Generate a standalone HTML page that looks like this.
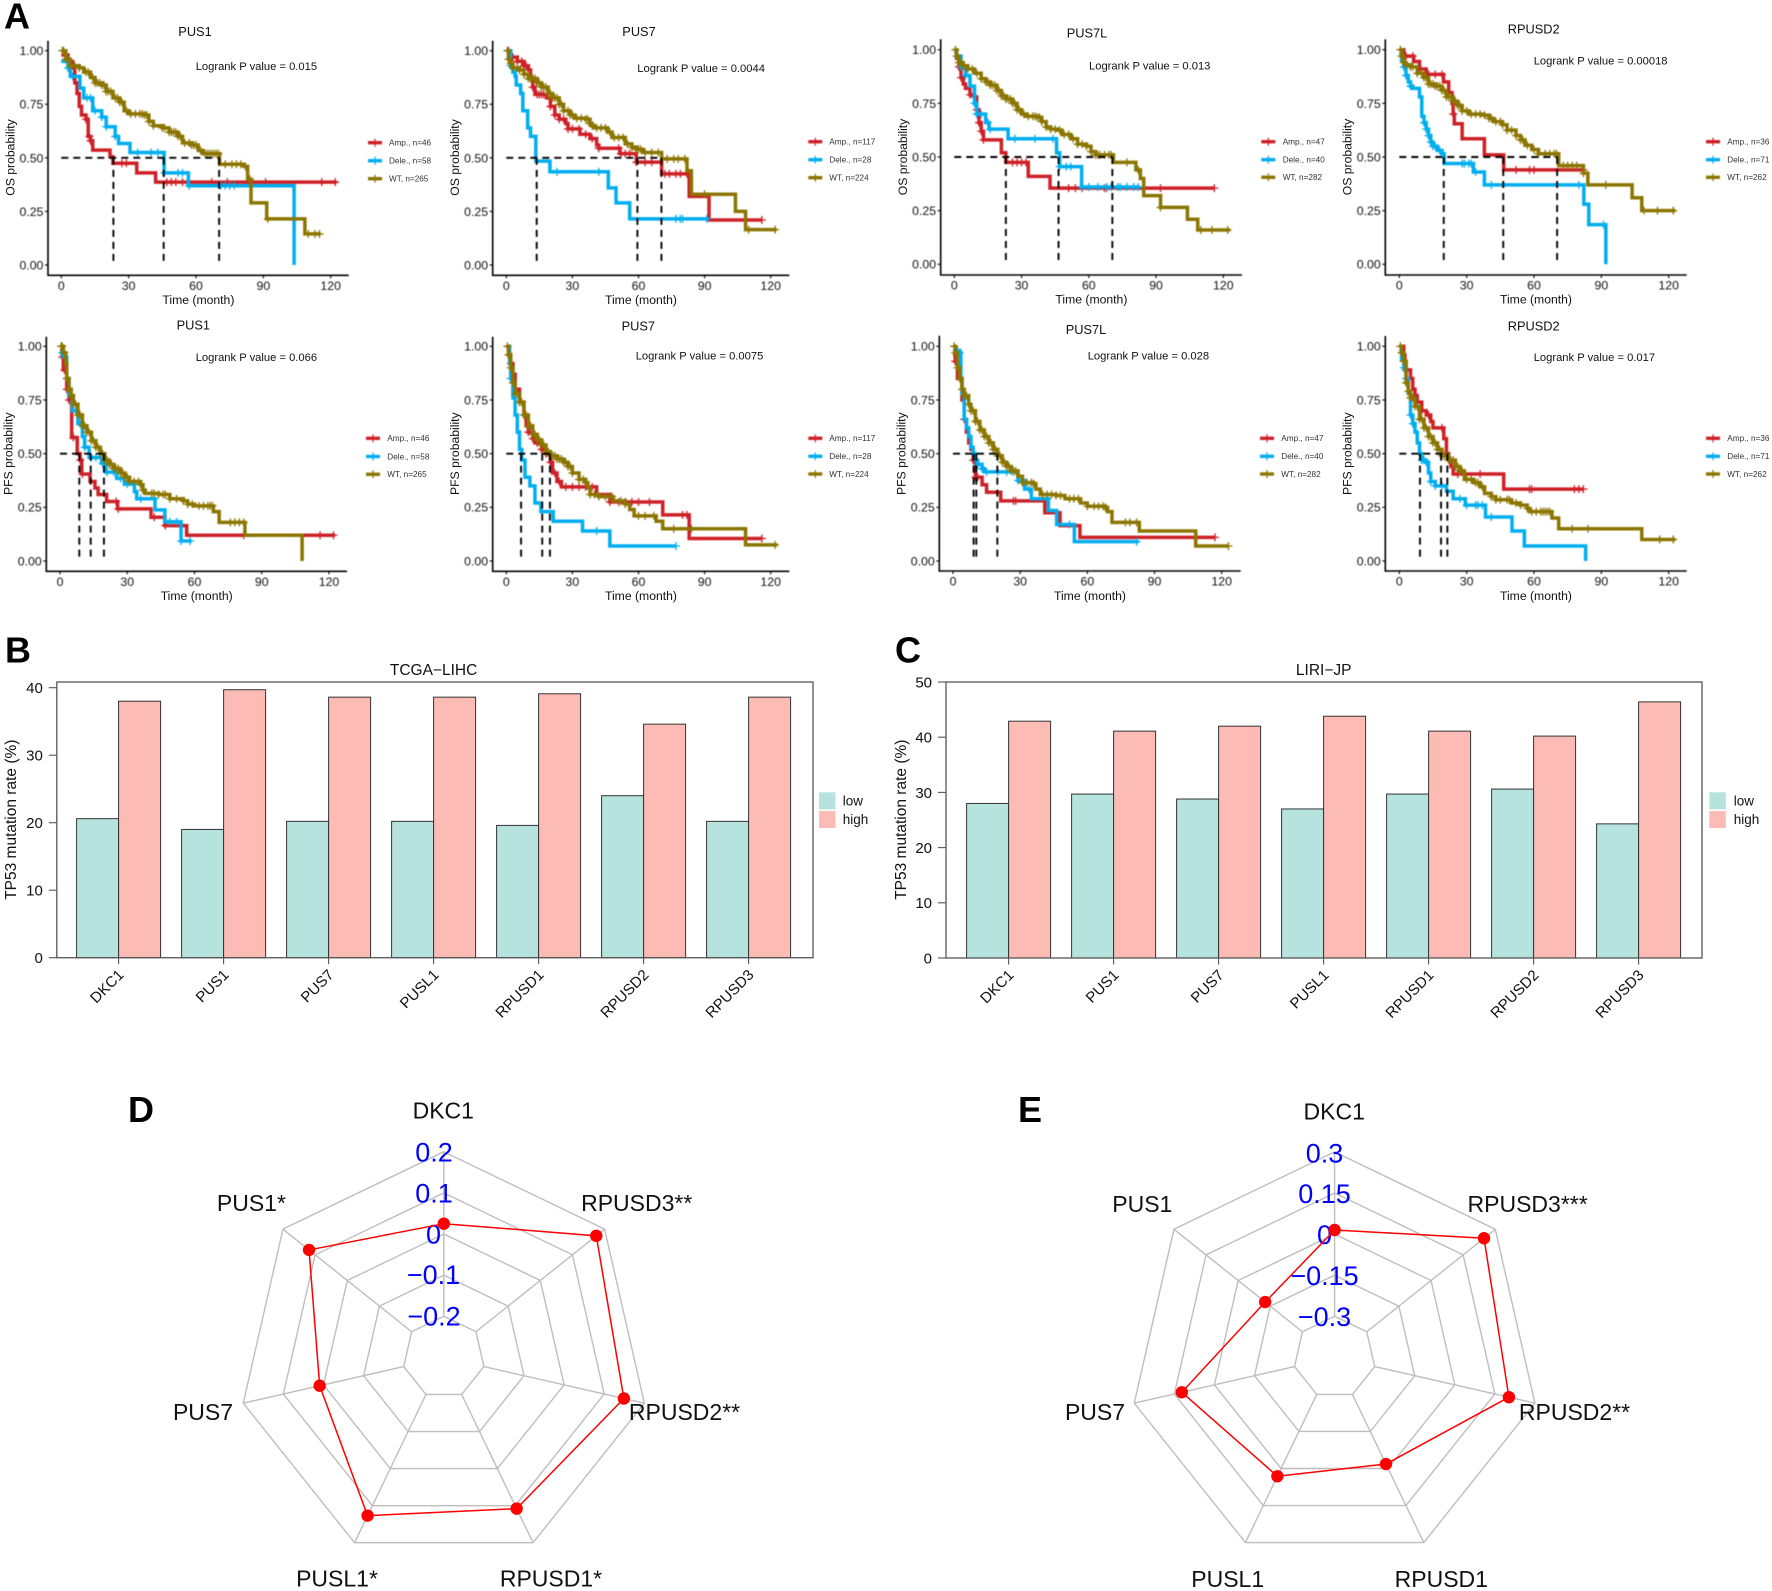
<!DOCTYPE html>
<html lang="en">
<head>
<meta charset="utf-8">
<title>PUS family survival, TP53 mutation and correlation panels</title>
<style>
html,body{margin:0;padding:0;background:#fff;width:1772px;height:1591px;overflow:hidden}
svg{display:block}
text{font-family:"Liberation Sans",Arial,sans-serif;fill:#000}
.letter{font-size:36px;font-weight:bold}
.km-title{font-size:12.8px;text-anchor:middle;fill:#111}
.km-p{font-size:11.2px;fill:#111}
.km-axis{font-size:12.2px;text-anchor:middle;fill:#111}
.km-leg{font-size:8.2px;fill:#333}
.km-tick{font-size:12.3px;fill:#111}
.bar-title{font-size:15.5px;text-anchor:middle;fill:#111}
.bar-axis{font-size:15.5px;text-anchor:middle;fill:#111}
.bar-tick{font-size:15px;fill:#111}
.bar-leg{font-size:13.5px;fill:#111}
.rad-lab{font-size:23px;text-anchor:middle;fill:#111}
.rad-val{font-size:27px;text-anchor:middle;fill:#0000ff}
</style>
</head>
<body>
<svg id="figure" xmlns="http://www.w3.org/2000/svg" width="1772" height="1591" viewBox="0 0 1772 1591">
<rect width="1772" height="1591" fill="#fff"/>

<text class="letter" x="4" y="28.5">A</text>
<text class="letter" x="5" y="662.5">B</text>
<text class="letter" x="895" y="662.5">C</text>
<text class="letter" x="128" y="1122">D</text>
<text class="letter" x="1018" y="1122">E</text>

<g id="km-layer" style="filter:blur(.4px)"></g>
<g>
<text class="km-title" x="195" y="36">PUS1</text>
<text class="km-p" x="195.7" y="70">Logrank P value = 0.015</text>
<text class="km-axis" transform="translate(14.5 157.5) rotate(-90)">OS probability</text>
<text class="km-axis" x="198.4" y="304">Time (month)</text>
<text class="km-leg" x="389" y="145.6">Amp., n=46</text>
<text class="km-leg" x="389" y="163.6">Dele., n=58</text>
<text class="km-leg" x="389" y="181.6">WT, n=265</text>

<text class="km-title" x="193.3" y="329.3">PUS1</text>
<text class="km-p" x="195.7" y="361">Logrank P value = 0.066</text>
<text class="km-axis" transform="translate(12.5 453.7) rotate(-90)">PFS probability</text>
<text class="km-axis" x="196.7" y="600">Time (month)</text>
<text class="km-leg" x="387.3" y="441.2">Amp., n=46</text>
<text class="km-leg" x="387.3" y="459.4">Dele., n=58</text>
<text class="km-leg" x="387.3" y="477.2">WT, n=265</text>

<text class="km-title" x="639" y="36">PUS7</text>
<text class="km-p" x="637.3" y="72">Logrank P value = 0.0044</text>
<text class="km-axis" transform="translate(458.8 157.5) rotate(-90)">OS probability</text>
<text class="km-axis" x="641" y="304">Time (month)</text>
<text class="km-leg" x="829.3" y="144.6">Amp., n=117</text>
<text class="km-leg" x="829.3" y="162.6">Dele., n=28</text>
<text class="km-leg" x="829.3" y="180.6">WT, n=224</text>

<text class="km-title" x="638.3" y="330.3">PUS7</text>
<text class="km-p" x="635.7" y="359.7">Logrank P value = 0.0075</text>
<text class="km-axis" transform="translate(458.8 453.7) rotate(-90)">PFS probability</text>
<text class="km-axis" x="641" y="600">Time (month)</text>
<text class="km-leg" x="829.3" y="441.2">Amp., n=117</text>
<text class="km-leg" x="829.3" y="459.2">Dele., n=28</text>
<text class="km-leg" x="829.3" y="476.9">WT, n=224</text>

<text class="km-title" x="1087" y="37.3">PUS7L</text>
<text class="km-p" x="1089" y="69.3">Logrank P value = 0.013</text>
<text class="km-axis" transform="translate(906.8 157) rotate(-90)">OS probability</text>
<text class="km-axis" x="1091.4" y="303.6">Time (month)</text>
<text class="km-leg" x="1282.7" y="144.6">Amp., n=47</text>
<text class="km-leg" x="1282.7" y="162.6">Dele., n=40</text>
<text class="km-leg" x="1282.7" y="180.2">WT, n=282</text>

<text class="km-title" x="1086" y="334">PUS7L</text>
<text class="km-p" x="1087.7" y="359.7">Logrank P value = 0.028</text>
<text class="km-axis" transform="translate(905.5 453.7) rotate(-90)">PFS probability</text>
<text class="km-axis" x="1090" y="600">Time (month)</text>
<text class="km-leg" x="1281.3" y="441.2">Amp., n=47</text>
<text class="km-leg" x="1281.3" y="459.2">Dele., n=40</text>
<text class="km-leg" x="1281.3" y="476.9">WT, n=282</text>

<text class="km-title" x="1533.7" y="33.7">RPUSD2</text>
<text class="km-p" x="1533.7" y="64.3">Logrank P value = 0.00018</text>
<text class="km-axis" transform="translate(1351.5 157) rotate(-90)">OS probability</text>
<text class="km-axis" x="1536" y="303.6">Time (month)</text>
<text class="km-leg" x="1727.3" y="144.6">Amp., n=36</text>
<text class="km-leg" x="1727.3" y="162.6">Dele., n=71</text>
<text class="km-leg" x="1727.3" y="180.2">WT, n=262</text>

<text class="km-title" x="1533.7" y="330.7">RPUSD2</text>
<text class="km-p" x="1533.7" y="361">Logrank P value = 0.017</text>
<text class="km-axis" transform="translate(1351.5 453.7) rotate(-90)">PFS probability</text>
<text class="km-axis" x="1536" y="600">Time (month)</text>
<text class="km-leg" x="1727.3" y="441.2">Amp., n=36</text>
<text class="km-leg" x="1727.3" y="459.2">Dele., n=71</text>
<text class="km-leg" x="1727.3" y="476.9">WT, n=262</text>
</g>

<g id="bar-layer"></g>
<g>
<text class="bar-title" x="433.6" y="675">TCGA−LIHC</text>
<text class="bar-axis" transform="translate(16 819.7) rotate(-90)">TP53 mutation rate (%)</text>
<text class="bar-leg" x="842.8" y="805.7">low</text>
<text class="bar-leg" x="842.8" y="824">high</text>
<text class="bar-title" x="1323.7" y="675">LIRI−JP</text>
<text class="bar-axis" transform="translate(906 819.7) rotate(-90)">TP53 mutation rate (%)</text>
<text class="bar-leg" x="1733.8" y="805.7">low</text>
<text class="bar-leg" x="1733.8" y="824">high</text>
</g>

<g id="radar-grid-layer"></g>
<g>
<text class="rad-lab" x="443.3" y="1118.7">DKC1</text>
<text class="rad-lab" x="636.7" y="1211">RPUSD3**</text>
<text class="rad-lab" x="684.5" y="1420">RPUSD2**</text>
<text class="rad-lab" x="551" y="1586.7">RPUSD1*</text>
<text class="rad-lab" x="337" y="1586.7">PUSL1*</text>
<text class="rad-lab" x="203" y="1420">PUS7</text>
<text class="rad-lab" x="251.4" y="1211">PUS1*</text>
<text class="rad-val" x="434" y="1161.7">0.2</text>
<text class="rad-val" x="434" y="1202.3">0.1</text>
<text class="rad-val" x="433.5" y="1243.3">0</text>
<text class="rad-val" x="433.5" y="1284">−0.1</text>
<text class="rad-val" x="434" y="1325.7">−0.2</text>
</g>
<g>
<text class="rad-lab" x="1334.2" y="1119.7">DKC1</text>
<text class="rad-lab" x="1527.6" y="1212">RPUSD3***</text>
<text class="rad-lab" x="1574.5" y="1420">RPUSD2**</text>
<text class="rad-lab" x="1441.3" y="1587">RPUSD1</text>
<text class="rad-lab" x="1227.7" y="1587">PUSL1</text>
<text class="rad-lab" x="1095" y="1420">PUS7</text>
<text class="rad-lab" x="1142.3" y="1212">PUS1</text>
<text class="rad-val" x="1324.5" y="1162.5">0.3</text>
<text class="rad-val" x="1324.5" y="1203">0.15</text>
<text class="rad-val" x="1324.5" y="1244">0</text>
<text class="rad-val" x="1324.5" y="1285">−0.15</text>
<text class="rad-val" x="1324.5" y="1326">−0.3</text>
</g>
<g id="radar-series-layer"></g>
</svg>

<script>
/* ---------- Survival data: [time in months, survival probability] ---------- */
const kmTimeTicks=[0,30,60,90,120];
const kmProbTicks=[0,0.25,0.5,0.75,1];
const kmProbLabels=['0.00','0.25','0.50','0.75','1.00'];

const osPus1Amp=[[0,.98],[3,.95],[5,.92],[6,.85],[7,.80],[8,.74],[9,.70],[11,.68],[12,.60],[13,.58],[14,.536],[21.7,.505],[23,.475],[33.6,.43],[42,.387],[122.7,.387]];
const osPus1Dele=[[0,.95],[3,.92],[4,.88],[8.3,.825],[10,.78],[14,.72],[18,.69],[20,.645],[24,.60],[25.5,.567],[30.6,.525],[45.8,.43],[56.6,.37],[103.7,0]];
const osPus1Wt=[[0,1],[2,.96],[4,.93],[8,.92],[10,.90],[13,.875],[15,.85],[18,.84],[20,.81],[23,.78],[26,.76],[28,.72],[30,.705],[37,.70],[39,.67],[41,.65],[45,.64],[48,.62],[52,.60],[54,.57],[58,.56],[61,.535],[63,.52],[70.5,.47],[81.5,.46],[83,.40],[84.5,.29],[91.5,.215],[108.5,.145],[115.5,.145]];
const osPus1AmpCensor=[11,12.5,13,27,29,47,49,51,54,67,74,91,116,122];
const osPus1DeleCensor=[3,5,11.5,13,15,18,20,24,34,40,43,46,52,54,57,71,73,75,77];
const osPus1WtCensor=[.5,1,2,3,4,6,8,11,12,14,15,16,17,18,19,20,21,22,24,25,26,27,29,31,33,35,36,37,38,39,41,45,46,48,49,50,51,52,53,55,57,58,59,60,62,64,65,66,67,68,69,70,73,76,78,80,82,84,92,110,113,115];
const osPus1Medians=[23.2,45.6,70.3];

const pfsPus1Amp=[[0,.98],[1,.95],[1.5,.89],[3,.80],[4,.75],[5.2,.575],[7.7,.50],[9,.47],[9.7,.405],[13.4,.37],[15.6,.34],[17,.31],[20.8,.277],[25.7,.243],[40.6,.204],[46.8,.165],[56.5,.12],[122.7,.12]];
const pfsPus1Dele=[[0,.97],[2,.95],[3,.85],[4,.77],[5.5,.70],[8,.64],[10,.58],[11,.53],[13,.482],[18.6,.455],[20.5,.414],[25.3,.385],[28.7,.358],[33.2,.323],[34.2,.29],[42.4,.238],[46.8,.183],[54,.093],[58.7,.093]];
const pfsPus1Wt=[[0,1],[1.5,.97],[2.5,.92],[3,.85],[4,.80],[5,.77],[6,.73],[8,.68],[10,.63],[12,.60],[14,.56],[16,.53],[18,.50],[20,.47],[22,.45],[24,.43],[27,.41],[29,.39],[31,.37],[36,.355],[37,.33],[38,.315],[44,.31],[49,.29],[55,.28],[57,.265],[60,.257],[68.4,.23],[71,.18],[82.5,.12],[108,0]];
const pfsPus1AmpCensor=[1,2,3,4,6,9,10,25,26,42,47,82,116,122];
const pfsPus1DeleCensor=[1,2,3,5,7,9,11,14,16,19,21,24,27,30,33,36,42,49,52,54,58];
const pfsPus1WtCensor=[.5,1,2,3,4,5,6,7,8,9,10,11,12,13,14,15,16,17,18,19,20,21,22,23,24,25,26,27,28,29,30,31,33,35,36,37,41,42,44,46,47,49,52,55,57,59,62,64,66,67,68,76,78,80,82];
const pfsPus1Medians=[8.6,13.7,19.6];

const osPus7Amp=[[0,1],[2,.97],[5,.95],[8,.93],[10,.91],[11,.87],[12,.83],[13,.796],[18.3,.78],[20,.74],[22,.70],[24,.68],[27,.66],[28,.635],[33.4,.61],[38,.59],[41,.56],[42,.545],[51.6,.52],[59,.48],[70.5,.425],[83,.32],[92,.21],[116,.21]];
const osPus7Dele=[[0,1],[2,.93],[3,.90],[4,.88],[4.5,.84],[6.5,.80],[7.5,.72],[9.7,.64],[11,.60],[13.4,.485],[19.8,.435],[46.3,.36],[49.8,.29],[56,.215],[91.7,.215]];
const osPus7Wt=[[0,1],[1,.96],[2,.94],[3,.92],[6,.91],[8,.89],[10,.87],[14,.85],[16,.83],[19,.80],[21,.78],[24,.75],[26,.72],[29,.70],[31,.685],[36,.68],[38,.66],[39,.65],[40,.64],[46,.62],[48,.595],[54,.565],[57,.55],[59,.54],[62,.525],[70.5,.495],[82,.44],[84,.33],[104,.25],[108.6,.165],[122.7,.165]];
const osPus7AmpCensor=[1,2,3,5,7,8,9,11,12,14,15,16,17,20,22,24,26,28,30,33,36,39,42,51,52,54,56,59,63,66,72,74,77,79,82,116];
const osPus7DeleCensor=[2,23,42,77,79,80,91];
const osPus7WtCensor=[.5,1,2,3,5,6,8,10,11,12,13,14,15,16,17,18,19,20,21,22,23,24,25,26,28,29,30,32,34,36,37,38,39,41,43,45,47,49,51,53,55,57,59,60,61,63,66,69,73,76,78,81,90,110,122];
const osPus7Medians=[13.8,59.5,70.4];

const pfsPus7Amp=[[0,1],[1,.96],[2,.92],[3,.87],[4,.80],[6,.74],[8,.68],[9,.63],[10,.60],[12,.57],[13,.55],[16,.52],[18,.50],[20,.46],[21,.41],[23,.37],[25,.345],[41,.31],[47,.275],[71,.215],[83,.105],[116,.105]];
const pfsPus7Dele=[[0,1],[1.5,.92],[2,.85],[3,.76],[4,.68],[5,.60],[6,.52],[7,.47],[8.5,.39],[10.7,.35],[13,.27],[15.7,.23],[21.3,.185],[34.6,.14],[47,.07],[77.3,.07]];
const pfsPus7Wt=[[0,1],[1,.96],[2,.90],[3,.83],[4,.78],[6,.74],[8,.68],[10,.63],[12,.59],[14,.565],[16,.54],[18,.51],[20,.49],[23,.475],[26,.46],[28,.44],[30,.41],[33,.38],[36,.365],[37,.34],[38,.31],[42,.30],[48.5,.28],[54,.265],[56,.24],[58,.21],[68,.185],[71,.15],[108.6,.075],[123,.075]];
const pfsPus7AmpCensor=[1,2,3,4,6,8,10,12,14,16,18,20,22,24,27,30,33,36,39,47,51,54,57,60,65,80,82,116];
const pfsPus7DeleCensor=[2,41,77];
const pfsPus7WtCensor=[.5,1,2,3,4,5,6,7,8,9,10,11,12,13,14,15,16,17,18,19,20,21,22,23,24,25,26,27,28,29,30,33,35,36,38,40,42,45,47,48,52,54,60,63,67,76,84,122];
const pfsPus7Medians=[6.7,16.3,19.8];

const osPus7lAmp=[[0,.99],[1,.96],[2,.92],[3,.87],[4,.84],[5,.82],[7,.79],[9,.78],[10,.72],[11,.66],[12,.62],[13,.58],[21,.52],[23,.475],[33,.41],[42.7,.355],[116,.355]];
const osPus7lDele=[[0,.99],[1,.97],[3,.92],[5,.88],[7,.83],[9,.75],[10,.70],[14,.66],[15.5,.63],[24,.585],[45.6,.52],[47,.455],[56.8,.36],[82.8,.36]];
const osPus7lWt=[[0,1],[1,.97],[2,.94],[4,.925],[6,.91],[9,.89],[12,.865],[14,.85],[16,.835],[19,.81],[21,.785],[23,.77],[26,.75],[28,.72],[30,.70],[32,.69],[37,.685],[39,.665],[41,.64],[43,.63],[46,.625],[48,.605],[52,.585],[55,.56],[59,.55],[61,.525],[63,.51],[71,.475],[81,.44],[83,.40],[84.5,.32],[92,.265],[104,.21],[108.6,.16],[123,.16]];
const osPus7lAmpCensor=[2,3,7,9,10,11,12,13,26,28,30,32,51,54,57,67,68,92,116];
const osPus7lDeleCensor=[3,5,9,10,12,15,16,27,36,44,47,50,52,57,60,64,68,70,73,74,77,80,82];
const osPus7lWtCensor=[.5,1,2,3,4,6,8,10,12,14,15,16,17,18,19,20,21,22,23,24,25,26,27,28,29,31,33,35,36,37,38,39,41,43,45,47,49,51,53,55,57,59,61,63,64,65,67,69,70,77,82,92,110,115,122];
const osPus7lMedians=[23,46.5,70.5];

const pfsPus7lAmp=[[0,.96],[1,.93],[2,.85],[4,.75],[5,.66],[6,.60],[7,.55],[8,.52],[9,.47],[10,.39],[13,.355],[15,.32],[21.3,.28],[41,.225],[47.8,.165],[56.7,.11],[117,.11]];
const pfsPus7lDele=[[0,.98],[3,.97],[3.5,.85],[4,.78],[5,.66],[6,.62],[7,.58],[8,.53],[9,.50],[10,.47],[11,.45],[13,.43],[14,.415],[29,.375],[32,.335],[35,.29],[42.6,.235],[46.3,.17],[54.2,.09],[82.8,.09]];
const pfsPus7lWt=[[0,1],[1,.97],[2,.90],[3,.85],[4,.80],[5,.77],[7,.73],[8,.70],[10,.65],[12,.61],[14,.58],[16,.55],[18,.52],[20,.49],[22,.46],[24,.44],[26,.42],[29,.395],[31,.365],[36,.36],[37,.335],[39,.31],[46,.305],[50,.29],[57,.27],[60,.255],[68,.25],[69,.23],[71,.18],[83.2,.14],[108.4,.07],[123,.07]];
const pfsPus7lAmpCensor=[1,5,9,10,11,27,28,117];
const pfsPus7lDeleCensor=[2,3,9,11,13,15,20,24,27,29,34,42,52,82];
const pfsPus7lWtCensor=[.5,1,2,3,4,5,6,7,8,9,10,11,12,13,14,15,16,17,18,19,20,21,22,23,24,25,26,27,28,31,33,35,36,40,42,44,46,48,52,54,56,60,63,65,67,68,77,79,82,123];
const pfsPus7lMedians=[9.2,10.4,19.8];

const osRpusd2Amp=[[0,1],[2,.97],[6.4,.945],[9,.91],[12,.885],[19.7,.85],[22,.80],[23.5,.75],[24,.70],[24.5,.655],[28,.585],[37.9,.51],[46.5,.44],[82,.44]];
const osRpusd2Dele=[[0,.98],[1,.95],[2,.92],[3,.88],[4,.85],[5,.83],[6,.82],[9,.78],[10,.69],[11,.66],[12,.63],[13,.60],[14,.57],[15,.55],[17,.53],[19,.515],[20,.47],[33,.43],[37.9,.37],[82.2,.28],[84.4,.185],[92,0]];
const osRpusd2Wt=[[0,1],[1,.97],[2,.94],[3,.93],[5,.92],[8,.89],[11,.87],[13,.84],[16,.83],[19,.81],[21,.78],[24,.76],[26,.74],[28,.715],[31,.70],[37,.695],[40,.68],[42,.665],[46,.65],[48,.625],[52,.60],[54,.58],[56,.555],[59,.535],[62,.515],[71,.46],[82,.425],[84,.37],[103.7,.31],[108,.25],[123,.25]];
const osRpusd2AmpCensor=[3,6,9,13,16,19,24,52,58,60,82];
const osRpusd2DeleCensor=[2,3,5,11,12,13,14,15,16,18,28,29,31,32,34,41,80,91];
const osRpusd2WtCensor=[.5,1,2,3,5,6,8,10,11,12,13,14,15,16,17,18,19,20,21,22,23,24,25,26,27,28,30,32,34,36,38,40,41,43,45,46,48,50,52,54,55,57,60,62,65,67,69,70,73,75,77,79,82,92,109,115,122];
const osRpusd2Medians=[19.8,46.3,70.3];

const pfsRpusd2Amp=[[0,1],[2,.96],[2.5,.93],[3,.89],[5,.85],[6,.80],[7,.77],[8,.74],[10,.70],[12,.68],[14,.65],[15,.62],[19.8,.57],[21,.50],[22,.47],[23,.44],[24,.405],[46.5,.335],[82,.335]];
const pfsRpusd2Dele=[[0,.98],[1,.94],[2,.90],[3,.85],[4,.78],[5,.68],[6,.64],[7,.60],[8,.55],[9,.50],[10,.47],[12,.46],[13,.41],[14,.37],[16,.35],[21,.325],[24,.29],[29.4,.26],[38.4,.205],[50.2,.14],[55.7,.07],[83,0]];
const pfsRpusd2Wt=[[0,1],[1,.97],[2,.93],[3,.83],[4,.79],[5,.76],[7,.72],[9,.66],[11,.62],[13,.58],[15,.55],[17,.52],[19,.49],[22,.47],[25,.44],[27,.42],[29,.38],[33,.365],[36,.345],[38,.315],[41,.30],[43,.285],[50,.27],[54,.26],[57,.245],[58,.23],[68,.20],[71,.15],[108,.10],[123,.10]];
const pfsRpusd2AmpCensor=[3,10,13,19,26,36,58,59,78,80,82];
const pfsRpusd2DeleCensor=[2,3,5,6,10,11,12,14,16,19,27,30,34,35,37,41];
const pfsRpusd2WtCensor=[.5,1,2,3,4,5,6,7,8,9,10,11,12,13,14,15,16,17,18,19,20,21,22,23,24,25,26,27,28,30,32,34,35,37,41,43,45,48,49,52,54,57,59,61,63,64,65,66,67,77,84,116,122];
const pfsRpusd2Medians=[9.2,18.6,21.4];

/* ---------- Bar chart data ---------- */
const barGenes=['DKC1','PUS1','PUS7','PUSL1','RPUSD1','RPUSD2','RPUSD3'];
const tcgaTicks=[0,10,20,30,40];
const tcgaLow=[20.6,19.0,20.2,20.2,19.6,24.0,20.2];
const tcgaHigh=[38.0,39.7,38.6,38.6,39.1,34.6,38.6];
const liriTicks=[0,10,20,30,40,50];
const liriLow=[28.0,29.7,28.8,27.0,29.7,30.6,24.3];
const liriHigh=[42.9,41.1,42.0,43.8,41.1,40.2,46.4];

/* ---------- Radar data, clockwise from top: DKC1, RPUSD3, RPUSD2, RPUSD1, PUSL1, PUS7, PUS1 ---------- */
const radarGenes=['DKC1','RPUSD3','RPUSD2','RPUSD1','PUSL1','PUS7','PUS1'];
const radarDValues=[.025,.174,.149,.108,.127,.0095,.119];
const radarDRange=[-.2,.2];
const radarEValues=[.015,.2475,.2025,-.018,.0315,.122,-.126];
const radarERange=[-.3,.3];

/* ---------- Drawing ---------- */
const NS='http://www.w3.org/2000/svg';
function add(parent,tag,attrs,text){
  const e=document.createElementNS(NS,tag);
  for(const k in attrs)e.setAttribute(k,attrs[k]);
  if(text!==undefined)e.textContent=text;
  parent.appendChild(e);
  return e;
}
const groupColors=['#CE2027','#00AEEF','#8B7500'];
const groupNames=['amp','dele','wt'];

function stepValue(curve,t){
  let s=curve[0][1];
  for(const p of curve){if(p[0]<=t)s=p[1];else break;}
  return s;
}

function drawKm(frame,name,curves,censors,medians){
  const layer=document.getElementById('km-layer');
  const g=add(layer,'g',{});
  
  
  const sx=t=>frame.x0+(frame.x120-frame.x0)*t/120;
  const sy=p=>frame.y0+(frame.y1-frame.y0)*p;

  const axes=add(g,'path',{d:`M${frame.axL} ${frame.axT}V${frame.axB}H${frame.axR}`,fill:'none',stroke:'#000','stroke-width':1.6});
  
  

  kmProbTicks.forEach((v,i)=>{
    const tick=add(g,'line',{x1:frame.axL-3,x2:frame.axL,y1:sy(v),y2:sy(v),stroke:'#000','stroke-width':1.1});
    
    
    const lab=add(g,'text',{class:'km-tick',x:frame.axL-4.6,y:sy(v)+4.4,'text-anchor':'end'},kmProbLabels[i]);
    
    
  });
  kmTimeTicks.forEach(v=>{
    const tick=add(g,'line',{x1:sx(v),x2:sx(v),y1:frame.axB,y2:frame.axB+3,stroke:'#000','stroke-width':1.1});
    
    
    const lab=add(g,'text',{class:'km-tick',x:sx(v),y:frame.axB+14.7,'text-anchor':'middle'},String(v));
    
    
  });

  curves.forEach((curve,i)=>{
    let d=`M${sx(curve[0][0])} ${sy(curve[0][1])}`;
    for(let k=1;k<curve.length;k++)d+=`H${sx(curve[k][0])}V${sy(curve[k][1])}`;
    const line=add(g,'path',{d:d,fill:'none',stroke:groupColors[i],'stroke-width':3.5,'stroke-linejoin':'miter'});
    
    
    censors[i].forEach(t=>{
      const x=sx(t),y=sy(stepValue(curve,t));
      const mark=add(g,'path',{d:`M${x} ${y-4}V${y+4}M${x-4} ${y}H${x+4}`,stroke:groupColors[i],'stroke-width':1.3,fill:'none'});
      
      
    });
  });

  const maxMedian=Math.max(...medians);
  const h=add(g,'line',{x1:sx(0),x2:sx(maxMedian),y1:sy(.5),y2:sy(.5),stroke:'#000','stroke-width':1.9,'stroke-dasharray':'7 5'});
  
  
  medians.forEach(m=>{
    const v=add(g,'line',{x1:sx(m),x2:sx(m),y1:sy(.5),y2:sy(0),stroke:'#000','stroke-width':1.9,'stroke-dasharray':'7 5'});
    
    
  });

  frame.legY.forEach((y,i)=>{
    const key=add(g,'path',{d:`M${frame.legX} ${y}H${frame.legX+14}`,stroke:groupColors[i],'stroke-width':3.4,fill:'none'});
    
    
    const cross=add(g,'path',{d:`M${frame.legX+7} ${y-4}V${y+4}`,stroke:groupColors[i],'stroke-width':1.2,fill:'none'});
    
    
  });
}

drawKm({x0:61.3,x120:330.7,y1:50.7,y0:265,axL:48,axR:348.7,axT:40.7,axB:275.3,legX:368,legY:[142.7,160.7,178.7]},'os-pus1',[osPus1Amp,osPus1Dele,osPus1Wt],[osPus1AmpCensor,osPus1DeleCensor,osPus1WtCensor],osPus1Medians);
drawKm({x0:60,x120:329,y1:346.3,y0:561,axL:46.3,axR:347,axT:336.7,axB:571.3,legX:366,legY:[438.3,456.5,474.3]},'pfs-pus1',[pfsPus1Amp,pfsPus1Dele,pfsPus1Wt],[pfsPus1AmpCensor,pfsPus1DeleCensor,pfsPus1WtCensor],pfsPus1Medians);
drawKm({x0:506.3,x120:770.7,y1:50.7,y0:265,axL:492.7,axR:789.3,axT:40.7,axB:275.3,legX:808.3,legY:[141.7,159.7,177.7]},'os-pus7',[osPus7Amp,osPus7Dele,osPus7Wt],[osPus7AmpCensor,osPus7DeleCensor,osPus7WtCensor],osPus7Medians);
drawKm({x0:506.3,x120:770.7,y1:346.3,y0:561,axL:492.7,axR:789.3,axT:336.7,axB:571.3,legX:808.3,legY:[438.3,456.3,474]},'pfs-pus7',[pfsPus7Amp,pfsPus7Dele,pfsPus7Wt],[pfsPus7AmpCensor,pfsPus7DeleCensor,pfsPus7WtCensor],pfsPus7Medians);
drawKm({x0:954.3,x120:1223.3,y1:49.7,y0:264.3,axL:940.7,axR:1242,axT:39.3,axB:275,legX:1261.3,legY:[141.7,159.7,177.3]},'os-pus7l',[osPus7lAmp,osPus7lDele,osPus7lWt],[osPus7lAmpCensor,osPus7lDeleCensor,osPus7lWtCensor],osPus7lMedians);
drawKm({x0:953,x120:1221.7,y1:346.3,y0:561,axL:939.3,axR:1240.7,axT:335.7,axB:571,legX:1260,legY:[438.3,456.3,474]},'pfs-pus7l',[pfsPus7lAmp,pfsPus7lDele,pfsPus7lWt],[pfsPus7lAmpCensor,pfsPus7lDeleCensor,pfsPus7lWtCensor],pfsPus7lMedians);
drawKm({x0:1399.3,x120:1668.7,y1:49.7,y0:264.3,axL:1385.3,axR:1686.7,axT:39.3,axB:275,legX:1706,legY:[141.7,159.7,177.3]},'os-rpusd2',[osRpusd2Amp,osRpusd2Dele,osRpusd2Wt],[osRpusd2AmpCensor,osRpusd2DeleCensor,osRpusd2WtCensor],osRpusd2Medians);
drawKm({x0:1399.3,x120:1668.7,y1:346.3,y0:561,axL:1385.3,axR:1686.7,axT:336,axB:571,legX:1706,legY:[438.3,456.3,474]},'pfs-rpusd2',[pfsRpusd2Amp,pfsRpusd2Dele,pfsRpusd2Wt],[pfsRpusd2AmpCensor,pfsRpusd2DeleCensor,pfsRpusd2WtCensor],pfsRpusd2Medians);

function drawBars(f,name,ticks,low,high){
  const layer=document.getElementById('bar-layer');
  const g=add(layer,'g',{});
  
  
  const sy=v=>f.bottom-(v/f.unitMax)*f.unitSpan;
  const cx=i=>f.first+i*f.step;

  low.forEach((v,i)=>{
    const a=add(g,'rect',{x:cx(i)-f.bw,y:sy(v),width:f.bw,height:f.bottom-sy(v),fill:'#B6E3DD',stroke:'#333','stroke-width':1});
    
    
  });
  high.forEach((v,i)=>{
    const b=add(g,'rect',{x:cx(i),y:sy(v),width:f.bw,height:f.bottom-sy(v),fill:'#FDBBB6',stroke:'#333','stroke-width':1});
    
    
  });

  const frame=add(g,'rect',{x:f.left,y:f.top,width:f.right-f.left,height:f.bottom-f.top,fill:'none',stroke:'#555','stroke-width':1.3});
  
  

  ticks.forEach(v=>{
    const t=add(g,'line',{x1:f.left-8,x2:f.left,y1:sy(v),y2:sy(v),stroke:'#555','stroke-width':1.1});
    
    
    const lab=add(g,'text',{class:'bar-tick',x:f.left-14,y:sy(v)+5.4,'text-anchor':'end'},String(v));
    
    
  });
  barGenes.forEach((gene,i)=>{
    const t=add(g,'line',{x1:cx(i),x2:cx(i),y1:f.bottom,y2:f.bottom+6.5,stroke:'#555','stroke-width':1.1});
    
    
    const lab=add(g,'text',{class:'bar-tick',transform:`translate(${cx(i)+6} ${f.bottom+18}) rotate(-45)`,'text-anchor':'end'},gene);
    
    
  });
  const lowKey=add(g,'rect',{x:f.legX,y:792.3,width:16.5,height:17,fill:'#B6E3DD'});
  
  
  const highKey=add(g,'rect',{x:f.legX,y:811,width:16.5,height:17,fill:'#FDBBB6'});
  
  
}
drawBars({left:56.8,right:813,top:682,bottom:957.7,first:118.6,step:105,bw:42,unitMax:40,unitSpan:270,legX:819},'tcga',tcgaTicks,tcgaLow,tcgaHigh);
drawBars({left:946,right:1702,top:682,bottom:958,first:1008.6,step:105,bw:42,unitMax:50,unitSpan:276,legX:1709.3},'liri',liriTicks,liriLow,liriHigh);

function drawRadar(cx,cy,R,name,values,range){
  const grid=add(document.getElementById('radar-grid-layer'),'g',{});
  
  
  const series=add(document.getElementById('radar-series-layer'),'g',{});
  
  
  const n=values.length;
  const pt=(i,r)=>{const a=2*Math.PI*i/n;return [cx+r*Math.sin(a),cy-r*Math.cos(a)];};
  const radius=v=>R*(.2+.8*(v-range[0])/(range[1]-range[0]));

  for(let k=1;k<=5;k++){
    const pts=values.map((_,i)=>pt(i,R*k/5).join(',')).join(' ');
    const ring=add(grid,'polygon',{points:pts,fill:'none',stroke:'#BEBEBE','stroke-width':1.4});
    
    
  }
  values.forEach((_,i)=>{
    const a=pt(i,R/5),b=pt(i,R);
    const sp=add(grid,'line',{x1:a[0],y1:a[1],x2:b[0],y2:b[1],stroke:'#BEBEBE','stroke-width':1.4});
    
    
  });
  const poly=add(series,'polygon',{points:values.map((v,i)=>pt(i,radius(v)).join(',')).join(' '),fill:'none',stroke:'#FF0000','stroke-width':1.5});
  
  
  values.forEach((v,i)=>{
    const p=pt(i,radius(v));
    const dot=add(series,'circle',{cx:p[0],cy:p[1],r:6.2,fill:'#FF0000'});
    
    
  });
}
drawRadar(443.8,1357.4,205.7,'radar-d',radarDValues,radarDRange);
drawRadar(1334.6,1357.4,205.5,'radar-e',radarEValues,radarERange);
</script>
</body>
</html>
